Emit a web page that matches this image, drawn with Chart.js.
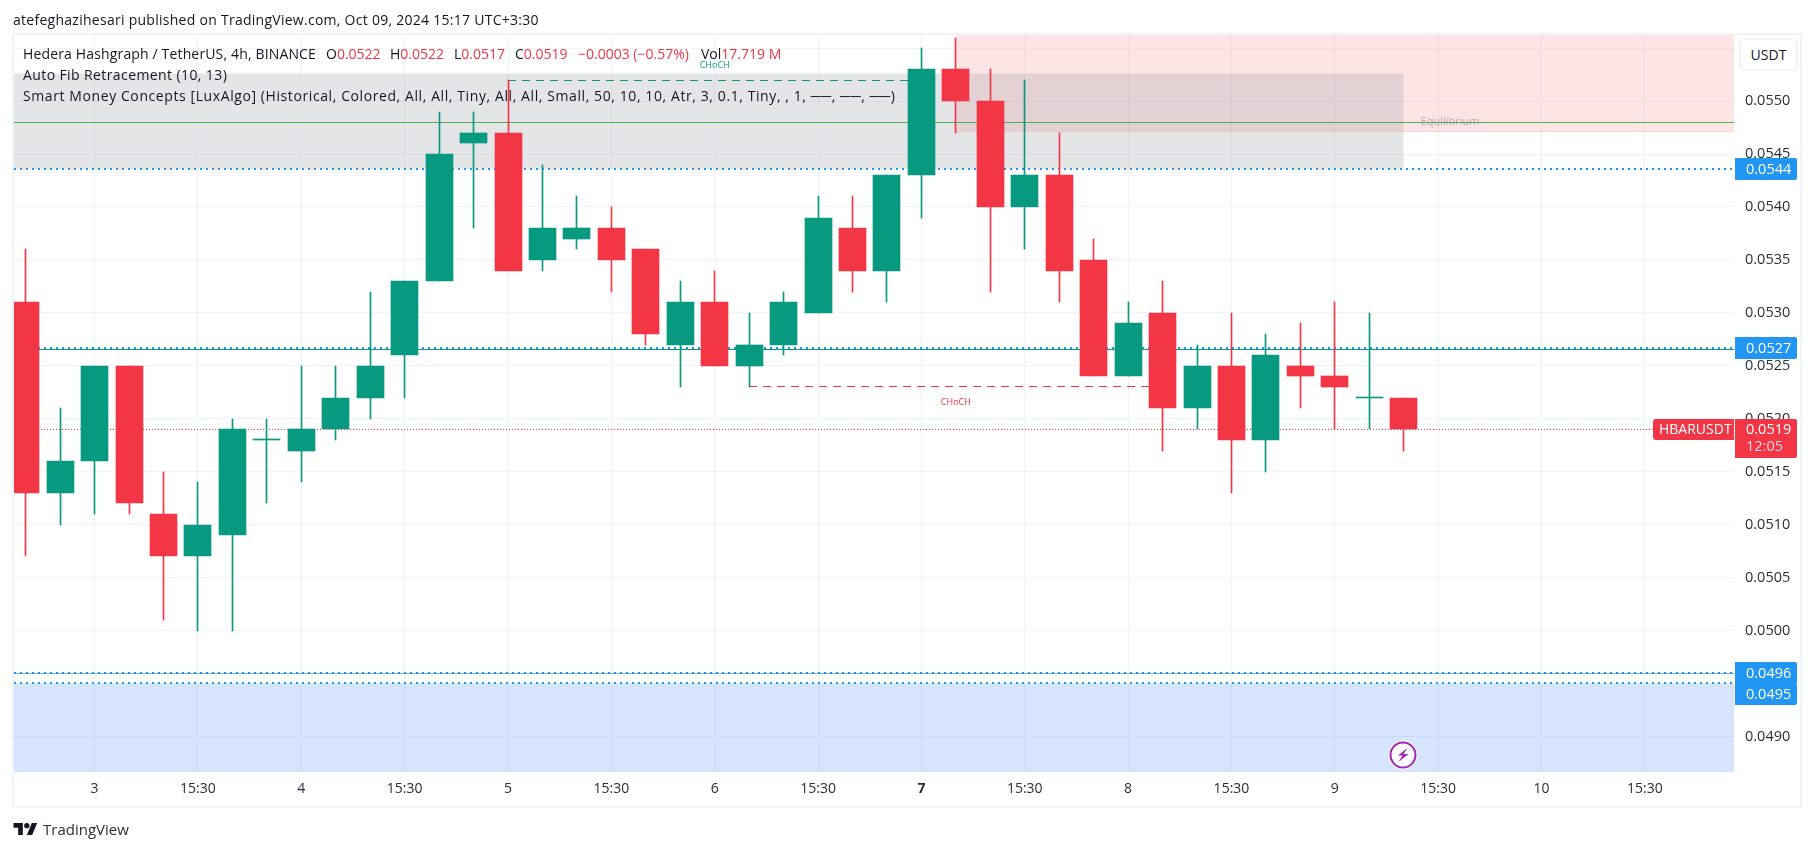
<!DOCTYPE html>
<html>
<head>
<meta charset="utf-8">
<title>HBARUSDT 4h</title>
<script src="https://cdn.jsdelivr.net/npm/chart.js@4/dist/chart.umd.min.js"></script>
<style>
  html, body { margin: 0; padding: 0; background: #fff; }
  body { width: 1814px; height: 851px; position: relative; overflow: hidden; font-family: "Open Sans", sans-serif; color: #131722; }
  canvas { position: absolute; left: 0; top: 0; display: block; }
  .frame { position: absolute; left: 12px; top: 33px; width: 1790px; height: 775px; box-sizing: border-box; border: 2px solid #f0f3fa; pointer-events: none; }
  .txt { position: absolute; white-space: nowrap; font-size: 14px; line-height: 20px; }
  .red { color: #f23645; }
  .usdt { position: absolute; left: 1739px; top: 38px; width: 59px; height: 33px; box-sizing: border-box; border: 2px solid #f0f3fa; border-radius: 6px; background: #fff; text-align: center; line-height: 29px; font-size: 14px; }
</style>
</head>
<body>
<canvas id="chart" width="1814" height="851"></canvas>
<div class="frame"></div>

<div class="txt" style="left:13px;top:10px;letter-spacing:.27px">atefeghazihesari published on TradingView.com, Oct 09, 2024 15:17 UTC+3:30</div>

<div class="txt" style="left:23px;top:44px;letter-spacing:.15px">Hedera Hashgraph / TetherUS, 4h, BINANCE</div>
<div class="txt" style="left:326px;top:44px">O<span class="red">0.0522</span></div>
<div class="txt" style="left:390px;top:44px">H<span class="red">0.0522</span></div>
<div class="txt" style="left:454px;top:44px">L<span class="red">0.0517</span></div>
<div class="txt" style="left:515px;top:44px">C<span class="red">0.0519</span></div>
<div class="txt red" style="left:578px;top:44px">−0.0003 (−0.57%)</div>
<div class="txt" style="left:701px;top:44px">Vol<span class="red">17.719 M</span></div>
<div class="txt" style="left:23px;top:65px;letter-spacing:.4px">Auto Fib Retracement (10, 13)</div>
<div class="txt" style="left:23px;top:86px;letter-spacing:.59px">Smart Money Concepts [LuxAlgo] (Historical, Colored, All, All, Tiny, All, All, Small, 50, 10, 10, Atr, 3, 0.1, Tiny, , 1, ──, ──, ──)</div>

<div class="usdt">USDT</div>

<svg style="position:absolute;left:1388px;top:740px" width="30" height="30" viewBox="0 0 30 30">
  <circle cx="15" cy="15" r="14.5" fill="#fff"/>
  <circle cx="15" cy="15" r="12.5" fill="none" stroke="#9c27b0" stroke-width="2"/>
  <path d="M19.5 8 L10 15.5 L14.5 15.5 L10.5 22 L20.5 14 L15.5 14 Z" fill="#9c27b0"/>
</svg>

<svg style="position:absolute;left:13px;top:823px" width="25" height="12" viewBox="0 0 36 18">
  <path d="M14 18H7V7H0V0h14v18zM28 18h-8L27.5 0h8L28 18z" fill="#131722"/>
  <circle cx="20" cy="4" r="4" fill="#131722"/>
</svg>
<div class="txt" style="left:43px;top:819px;font-size:15px;color:#2a2e39">TradingView</div>

<script>
// candles, 4h
const opens  = [0.0531,0.0513,0.0516,0.0525,0.0511,0.0507,0.0509,0.0518,0.0517,0.0519,0.0522,0.0526,0.0533,0.0546,0.0547,0.0535,0.0537,0.0538,0.0536,0.0527,0.0531,0.0525,0.0527,0.0530,0.0538,0.0534,0.0543,0.0553,0.0550,0.0540,0.0543,0.0535,0.0524,0.0530,0.0521,0.0525,0.0518,0.0525,0.0524,0.0522,0.0522];
const highs  = [0.0536,0.0521,0.0525,0.0525,0.0515,0.0514,0.0520,0.0520,0.0525,0.0525,0.0532,0.0533,0.0549,0.0549,0.0552,0.0544,0.0541,0.0540,0.0536,0.0533,0.0534,0.0530,0.0532,0.0541,0.0541,0.0543,0.0555,0.0556,0.0553,0.0552,0.0547,0.0537,0.0531,0.0533,0.0527,0.0530,0.0528,0.0529,0.0531,0.0530,0.0522];
const lows   = [0.0507,0.0510,0.0511,0.0511,0.0501,0.0500,0.0500,0.0512,0.0514,0.0518,0.0520,0.0522,0.0533,0.0538,0.0534,0.0534,0.0536,0.0532,0.0527,0.0523,0.0525,0.0523,0.0526,0.0530,0.0532,0.0531,0.0539,0.0547,0.0532,0.0536,0.0531,0.0524,0.0524,0.0517,0.0519,0.0513,0.0515,0.0521,0.0519,0.0519,0.0517];
const closes = [0.0513,0.0516,0.0525,0.0512,0.0507,0.0510,0.0519,0.0518,0.0519,0.0522,0.0525,0.0533,0.0545,0.0547,0.0534,0.0538,0.0538,0.0535,0.0528,0.0531,0.0525,0.0527,0.0531,0.0539,0.0534,0.0543,0.0553,0.0550,0.0540,0.0543,0.0534,0.0524,0.0529,0.0521,0.0525,0.0518,0.0526,0.0524,0.0523,0.0522,0.0519];

const xTickValues = [2,5,8,11,14,17,20,23,26,29,32,35,38,41,44,47];
const xTickLabels = ['3','15:30','4','15:30','5','15:30','6','15:30','7','15:30','8','15:30','9','15:30','10','15:30'];
const yTickValues = [0.049,0.0495,0.05,0.0505,0.051,0.0515,0.052,0.0525,0.053,0.0535,0.054,0.0545,0.055,0.0555];

// indicator levels
const fibLevels = [0.05436,0.05267,0.0496,0.0495];
const fibSolid = 0.05265;
const equilibrium = 0.0548;
const lastPrice = 0.0519;
const tagPrices = [0.05436,0.05267,0.0496,0.0495];
const chochUp = 0.05519;
const chochDown = 0.0523;

const GREEN = '#089981', RED = '#f23645', BLUE = '#2196f3';
const xMin = -0.3396, xMax = 49.587, yMin = 0.048664, yMax = 0.055624;
const FONT = '"Open Sans", sans-serif';

const candleColor = closes.map((c, i) => c >= opens[i] ? GREEN : RED);

function hline(y, color, width, dash, x0 = xMin, x1 = xMax) {
  return { type: 'line', data: [{x: x0, y}, {x: x1, y}], borderColor: color, borderWidth: width, borderDash: dash, pointRadius: 0, fill: false, order: 5 };
}
function zone(x0, x1, top, bottom, color) {
  return { type: 'line', data: [{x: x0, y: top}, {x: x1, y: top}], borderWidth: 0, borderColor: 'transparent', backgroundColor: color, pointRadius: 0, fill: {value: bottom}, order: 10 };
}

const datasets = [
  zone(xMin, 40, 0.05526, 0.05436, 'rgba(120,123,134,0.2)'),
  zone(27, xMax, 0.0558, 0.05471, 'rgba(247,124,128,0.2)'),
  zone(xMin, xMax, 0.0495, 0.0480, 'rgba(48,120,245,0.2)'),
  hline(0.05471, 'rgba(247,124,128,0.2)', 1, [], 27, xMax),
  ...fibLevels.map(v => hline(v, BLUE, 2, [2, 4])),
  hline(fibSolid, GREEN, 1, []),
  hline(0.04959, '#64b5f6', 1, []),
  hline(equilibrium, '#4caf50', 1, []),
  hline(lastPrice, RED, 1, [1, 2]),
  hline(chochUp, GREEN, 1, [8, 6], 14, 26),
  hline(chochDown, RED, 1, [8, 6], 21, 33),
  { type: 'bar', data: closes.map((_, i) => ({x: i, y: [lows[i], highs[i]]})), backgroundColor: candleColor, barThickness: 1, grouped: false, borderWidth: 0, order: 2 },
  { type: 'bar', data: closes.map((c, i) => ({x: i, y: [opens[i], c]})), backgroundColor: candleColor, barThickness: 27, grouped: false, borderWidth: 0, minBarLength: 1, order: 1 }
];

// keep candles and lines on whole pixels, the way the original is drawn
const snapPixels = {
  id: 'snapPixels',
  afterDatasetsUpdate(chart) {
    chart.data.datasets.forEach((ds, idx) => {
      const meta = chart.getDatasetMeta(idx);
      if (ds.type === 'bar') {
        meta.data.forEach(el => {
          el.x = Math.floor(el.x) + 0.5;
          el.y = Math.round(el.y);
          el.base = Math.round(el.base);
          if (el.y === el.base) el.y -= 1;
        });
      } else if (ds.borderWidth % 2 === 1) {
        meta.data.forEach(el => { el.y = Math.floor(el.y) + 0.5; });
      } else if (ds.borderWidth === 2) {
        meta.data.forEach(el => { el.y = Math.round(el.y); });
      }
    });
  }
};

function tag(ctx, x, y, w, h, color, radius) {
  ctx.fillStyle = color;
  ctx.beginPath();
  ctx.roundRect(x, y, w, h, radius);
  ctx.fill();
}

const overlays = {
  id: 'overlays',
  afterDraw(chart) {
    const ctx = chart.ctx, xs = chart.scales.x, ys = chart.scales.y;
    ctx.save();
    ctx.textBaseline = 'middle';

    // structure labels
    ctx.textAlign = 'center';
    ctx.font = '9px ' + FONT;
    ctx.fillStyle = GREEN;
    ctx.fillText('CHoCH', xs.getPixelForValue(20), ys.getPixelForValue(chochUp) - 16);
    ctx.fillStyle = RED;
    ctx.fillText('CHoCH', xs.getPixelForValue(27), ys.getPixelForValue(chochDown) + 15);
    ctx.font = '11px ' + FONT;
    ctx.fillStyle = 'rgba(120,123,134,0.55)';
    ctx.fillText('Equilibrium', 1450, ys.getPixelForValue(equilibrium));

    // price tags on the axis
    ctx.textAlign = 'left';
    ctx.font = '14.5px ' + FONT;
    tagPrices.forEach((v, i) => {
      let y = Math.round(ys.getPixelForValue(v));
      if (i === 3) y = Math.round(ys.getPixelForValue(tagPrices[2])) + 21;
      tag(ctx, 1735, y - 11, 62, 22, BLUE, [0, 2, 2, 0]);
      ctx.fillStyle = '#fff';
      ctx.fillText(v.toFixed(4), 1746, y + 1);
    });

    const py = Math.round(ys.getPixelForValue(lastPrice));
    tag(ctx, 1653, py - 10, 81, 21, RED, [3, 0, 0, 3]);
    tag(ctx, 1735, py - 10, 62, 39, RED, [0, 2, 2, 0]);
    ctx.fillStyle = '#fff';
    ctx.font = '14px ' + FONT;
    ctx.fillText('HBARUSDT', 1659, py + 1);
    ctx.font = '14.5px ' + FONT;
    ctx.fillText(lastPrice.toFixed(4), 1746, py + 1);
    ctx.fillStyle = 'rgba(255,255,255,0.8)';
    ctx.fillText('12:05', 1746, py + 18);
    ctx.restore();
  }
};

new Chart(document.getElementById('chart'), {
  type: 'bar',
  data: { datasets },
  plugins: [snapPixels, overlays],
  options: {
    responsive: false,
    animation: false,
    events: [],
    layout: { padding: { left: 14, top: 35, right: 12, bottom: 44 } },
    plugins: { legend: { display: false }, tooltip: { enabled: false } },
    scales: {
      x: {
        type: 'linear', min: xMin, max: xMax, offset: false,
        grid: { color: '#f0f3fa', drawTicks: false, offset: false },
        border: { display: false },
        afterBuildTicks: s => { s.ticks = xTickValues.map(value => ({value})); },
        afterFit: s => { s.height = 35; },
        ticks: {
          autoSkip: false, maxRotation: 0, padding: 9, color: '#2a2e39',
          font: c => ({ family: FONT, size: 14, weight: c.tick && c.tick.label === '7' ? 'bold' : 'normal' }),
          callback: v => xTickLabels[xTickValues.indexOf(v)]
        }
      },
      y: {
        position: 'right', min: yMin, max: yMax,
        grid: { color: '#f0f3fa', drawTicks: false },
        border: { display: false },
        afterBuildTicks: s => { s.ticks = yTickValues.map(value => ({value})); },
        afterFit: s => { s.width = 68; },
        ticks: {
          autoSkip: false, padding: 11, crossAlign: 'near', color: '#2a2e39',
          font: { family: FONT, size: 14.5 },
          callback: v => v.toFixed(4)
        }
      }
    }
  }
});
</script>
</body>
</html>
